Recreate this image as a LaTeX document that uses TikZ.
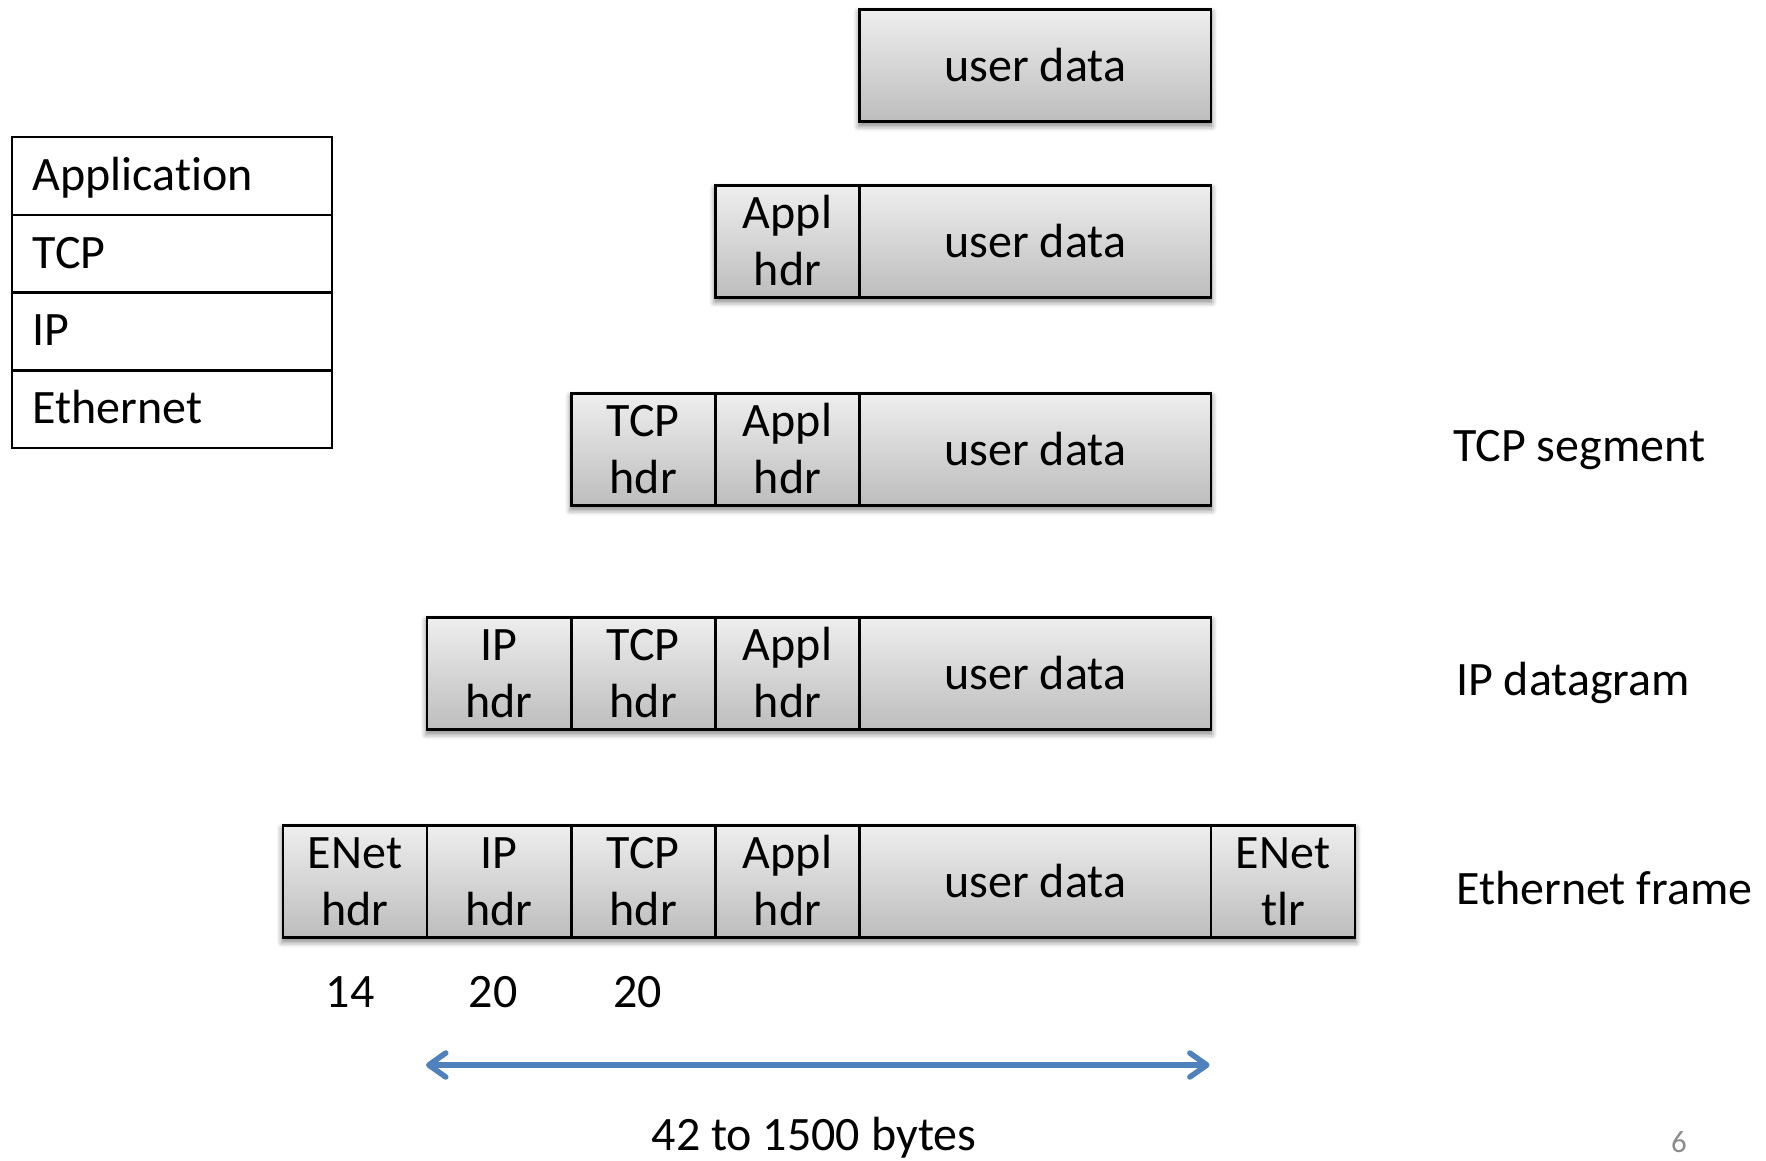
\documentclass[tikz,border=0pt]{standalone}
\usepackage{fontspec}
\setmainfont{Carlito}[Ligatures=NoCommon]
\usetikzlibrary{arrows.meta,backgrounds,shadows.blur}

\definecolor{celltop}{HTML}{EEEEEE}
\definecolor{cellbot}{HTML}{BDBDBD}
\definecolor{spanblue}{HTML}{4F81BD}
\definecolor{pagegray}{HTML}{8C8C8C}

% two-line header label, baseline on the last line
\newcommand\hdrpair[2]{\begin{tabular}[b]{@{}c@{}}#1\\#2\end{tabular}}

\begin{document}
\begin{tikzpicture}[x=1pt,y=-1pt,
  every node/.style={font=\fontsize{48}{57}\selectfont},
  cell/.style={draw=black, line width=2.6pt, top color=celltop, bottom color=cellbot,
               minimum height=112pt, inner sep=0pt, anchor=north west},
  hdrcell/.style={cell, minimum width=144.2pt, text height=95pt, text depth=6.2pt},
  datacell/.style={cell, minimum width=351.4pt},
  rowshadow/.style={blur shadow={shadow xshift=0pt, shadow yshift=-4pt,
               shadow blur radius=5pt, shadow opacity=45}},
  layer/.style={draw=black, line width=2.4pt, anchor=north west, minimum height=77.7pt,
               text width=279pt, inner xsep=20.5pt, inner ysep=0pt, align=left,
               text height=29pt, text depth=0pt},
  sidelabel/.style={anchor=base west, inner sep=0pt},
  sizelabel/.style={anchor=base, inner sep=0pt},
  span/.style={spanblue, line width=5.5pt,
               {Straight Barb[length=17pt,width=24pt,round]}-{Straight Barb[length=17pt,width=24pt,round]}}
]
\useasboundingbox (0,0) rectangle (1766,1160);

% protocol stack
\node[layer] (app) at (11,136)   {Application};
\node[layer] (tcp) at (11,213.7) {TCP};
\node[layer] (ip)  at (11,291.4) {IP};
\node[layer] (eth) at (11,369.1) {Ethernet};

% user data alone
\node[datacell] (a1) at (858.2,8) {user data};

% application message
\node[hdrcell]  (b1) at (714.1,184) {\hdrpair{Appl}{hdr}};
\node[datacell] (b2) at (858.2,184) {user data};

% TCP segment
\node[hdrcell]  (c1) at (569.9,392) {\hdrpair{TCP}{hdr}};
\node[hdrcell]  (c2) at (714.1,392) {\hdrpair{Appl}{hdr}};
\node[datacell] (c3) at (858.2,392) {user data};

% IP datagram
\node[hdrcell]  (d1) at (425.7,616) {\hdrpair{IP}{hdr}};
\node[hdrcell]  (d2) at (569.9,616) {\hdrpair{TCP}{hdr}};
\node[hdrcell]  (d3) at (714.1,616) {\hdrpair{Appl}{hdr}};
\node[datacell] (d4) at (858.2,616) {user data};

% Ethernet frame
\node[hdrcell]  (e1) at (281.6,824) {\hdrpair{ENet}{hdr}};
\node[hdrcell]  (e2) at (425.7,824) {\hdrpair{IP}{hdr}};
\node[hdrcell]  (e3) at (569.9,824) {\hdrpair{TCP}{hdr}};
\node[hdrcell]  (e4) at (714.1,824) {\hdrpair{Appl}{hdr}};
\node[datacell] (e5) at (858.2,824) {user data};
\node[hdrcell]  (e6) at (1209.6,824) {\hdrpair{ENet}{tlr}};

% soft shadows under each row
\begin{scope}[on background layer]
  \path[rowshadow] (a1.north west) rectangle (a1.south east);
  \path[rowshadow] (b1.north west) rectangle (b2.south east);
  \path[rowshadow] (c1.north west) rectangle (c3.south east);
  \path[rowshadow] (d1.north west) rectangle (d4.south east);
  \path[rowshadow] (e1.north west) rectangle (e6.south east);
\end{scope}

% names of the units
\node[sidelabel] (lseg)   at (1453,461.7) {TCP segment};
\node[sidelabel] (ldgram) at (1456,695)   {IP datagram};
\node[sidelabel] (lframe) at (1456,904)   {Ethernet frame};

% header sizes
\node[sizelabel] (s1) at (350,1007)   {14};
\node[sizelabel] (s2) at (493,1007)   {20};
\node[sizelabel] (s3) at (637.5,1007) {20};

% size range of the IP datagram
\coordinate (spanL) at (426,1065);
\coordinate (spanR) at (1209.6,1065);
\draw[span] (spanL) -- (spanR);
\node[sizelabel] (range) at (814,1150) {42 to 1500 bytes};

% slide number
\node[sizelabel, font=\fontsize{31}{36}\selectfont, text=pagegray] (pageno) at (1679,1152) {6};
\end{tikzpicture}
\end{document}
